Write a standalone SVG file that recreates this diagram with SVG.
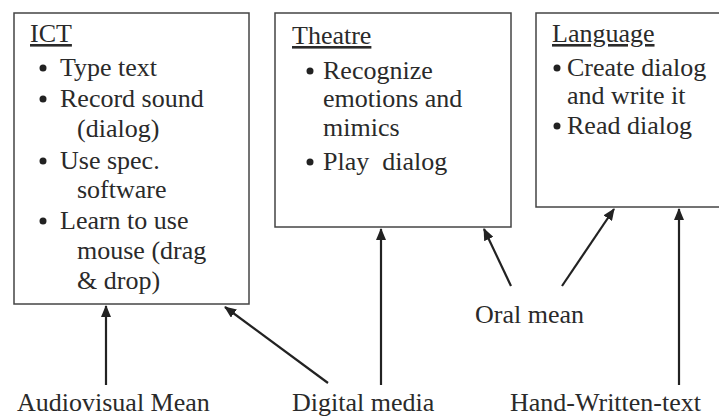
<svg xmlns="http://www.w3.org/2000/svg" width="719" height="418" viewBox="0 0 719 418">
<defs>
<style>
text{font-family:"Liberation Serif",serif;font-size:26px;fill:#2a2a2a}
.box{fill:#fff;stroke:#444;stroke-width:1.5}
.u{text-decoration:underline}
.b{fill:#222}
.c{stroke:#222;stroke-width:2.2;fill:none;marker-end:url(#ah)}
</style>
<marker id="ah" viewBox="0 0 12 10" refX="11" refY="5" markerWidth="5.5" markerHeight="4.6" orient="auto" markerUnits="strokeWidth">
<path d="M0,0 L12,5 L0,10 z" fill="#222"/>
</marker>
</defs>
<rect width="719" height="418" fill="#fff"/>
<g id="ict">
<rect class="box" x="14" y="13" width="235" height="291"/>
<text x="30" y="42" class="u">ICT</text>
<circle class="b" cx="43" cy="68" r="3.5"/><text x="60" y="76">Type text</text>
<circle class="b" cx="43" cy="99" r="3.5"/><text x="60" y="107">Record sound</text>
<text x="77" y="137">(dialog)</text>
<circle class="b" cx="43" cy="161" r="3.5"/><text x="60" y="169">Use spec.</text>
<text x="77" y="198">software</text>
<circle class="b" cx="43" cy="221" r="3.5"/><text x="60" y="229">Learn to use</text>
<text x="77" y="259">mouse (drag</text>
<text x="77" y="289">&amp; drop)</text>
</g>
<g id="theatre">
<rect class="box" x="275" y="13" width="236" height="214"/>
<text x="292" y="44" class="u">Theatre</text>
<circle class="b" cx="310" cy="71" r="3.5"/><text x="323" y="79">Recognize</text>
<text x="323" y="107">emotions and</text>
<text x="323" y="136">mimics</text>
<circle class="b" cx="310" cy="162" r="3.5"/><text x="323" y="170" xml:space="preserve">Play  dialog</text>
</g>
<g id="language">
<rect class="box" x="536" y="13" width="190" height="194"/>
<text x="552" y="42" class="u">Language</text>
<circle class="b" cx="557" cy="68" r="3.5"/><text x="567" y="76">Create dialog</text>
<text x="567" y="104">and write it</text>
<circle class="b" cx="557" cy="126" r="3.5"/><text x="567" y="134">Read dialog</text>
</g>
<g id="audiovisual"><text x="17" y="411">Audiovisual Mean</text></g>
<g id="digital"><text x="292" y="411">Digital media</text></g>
<g id="handwritten"><text x="510" y="411">Hand-Written-text</text></g>
<g id="oral"><text x="475" y="323">Oral mean</text></g>
<g id="connectors">
<line class="c" x1="106" y1="385" x2="106" y2="306"/>
<line class="c" x1="328" y1="383" x2="225" y2="307"/>
<line class="c" x1="381" y1="385" x2="381" y2="229"/>
<line class="c" x1="511" y1="286" x2="484" y2="229"/>
<line class="c" x1="562" y1="286" x2="614" y2="209"/>
<line class="c" x1="679" y1="385" x2="679" y2="209"/>
</g>
</svg>
